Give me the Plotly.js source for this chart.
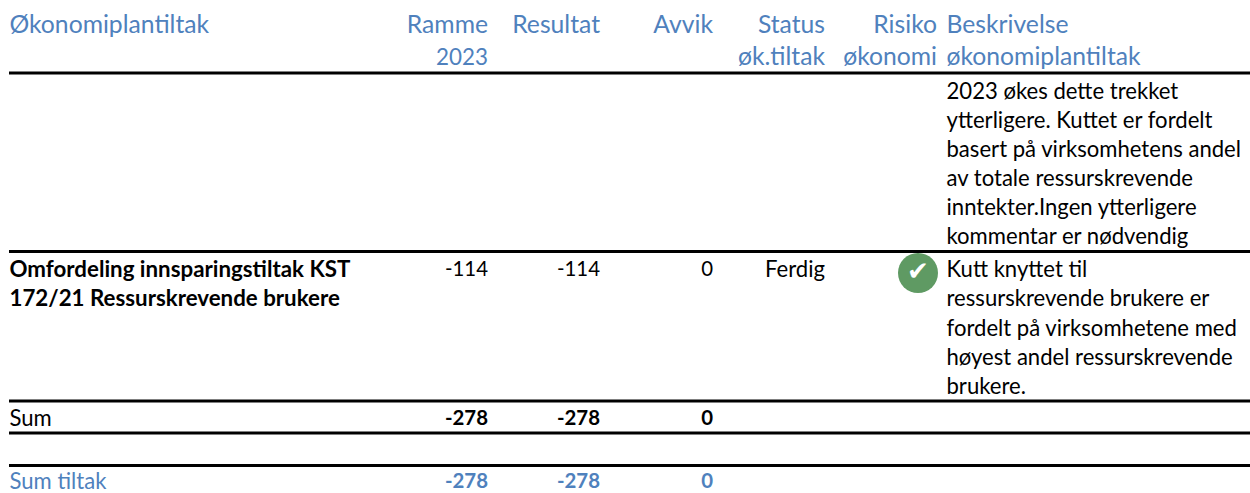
<!DOCTYPE html>
<html><head><meta charset="utf-8">
<script src="https://cdn.plot.ly/plotly-3.0.1.min.js"></script>
<style>html,body{margin:0;padding:0;background:#fff}</style></head>
<body><div id="chart" style="width:1250px;height:493px"></div>
<script>
// Table content
const headers = [["Økonomiplantiltak"],["Ramme","2023"],["Resultat"],["Avvik"],["Status","øk.tiltak"],["Risiko","økonomi"],["Beskrivelse","økonomiplantiltak"]];
const descTop = ["2023 økes dette trekket","ytterligere. Kuttet er fordelt","basert på virksomhetens andel","av totale ressurskrevende","inntekter.Ingen ytterligere","kommentar er nødvendig"];
const measureName = ["Omfordeling innsparingstiltak KST","172/21 Ressurskrevende brukere"];
const measureValues = ["-114","-114","0"];
const measureStatus = "Ferdig";
const descBottom = ["Kutt knyttet til","ressurskrevende brukere er","fordelt på virksomhetene med","høyest andel ressurskrevende","brukere."];
const sumLabel = "Sum";
const sumValues = ["-278","-278","0"];
const totalLabel = "Sum tiltak";
const totalValues = ["-278","-278","0"];

// Layout of the table, in pixels of the picture
const colX = [9.5,488,600,713,825,937,946.5];
const headerY = [27,59];
const descTopY = [93.4,122.4,151.4,180.9,209.9,238.9];
const measureY = [271.3,300.6];
const descBottomY = [271.4,300.7,330,359.3,388.5];
const sumY = 420, totalY = 483.2;
const ruleY = [73,251.5,401,433,465.5];
const iconPos = [918,273];
const BLUE = "#4f81bd", BLACK = "#000000", FONT = "Lato, 'Open Sans', sans-serif";
const HEAD = 24.7, HEADNUM = 22.4, BODY = 22.1, BOLD = 22.3, NUM = 20.4;

function txt(xs, ys, texts, color, size, pos){
  return {type:"scatter",mode:"text",x:xs,y:ys,text:texts,textposition:pos,
    textfont:{family:FONT,size:size,color:color},hoverinfo:"skip",showlegend:false,cliponaxis:false};
}
const traces = [];
headers.forEach((h,c)=>{
  const left = c===0||c===6;
  traces.push(txt(h.map(()=>colX[c]), h.map((_,i)=>headerY[i]), h, BLUE, h.map(s=>/^\d+$/.test(s)?HEADNUM:HEAD), left?"middle right":"middle left"));
});
traces.push(txt(descTop.map(()=>colX[6]), descTopY, descTop, BLACK, BODY, "middle right"));
traces.push(txt(measureName.map(()=>colX[0]), measureY, measureName.map(s=>"<b>"+s+"</b>"), BLACK, BOLD, "middle right"));
traces.push(txt(colX.slice(1,4), measureValues.map(()=>measureY[0]), measureValues, BLACK, NUM, "middle left"));
traces.push(txt([colX[4]],[measureY[0]],[measureStatus],BLACK,BODY,"middle left"));
traces.push(txt(descBottom.map(()=>colX[6]), descBottomY, descBottom, BLACK, BODY, "middle right"));
traces.push(txt([colX[0]],[sumY],[sumLabel],BLACK,BODY,"middle right"));
traces.push(txt(colX.slice(1,4), sumValues.map(()=>sumY), sumValues.map(s=>"<b>"+s+"</b>"), BLACK, NUM, "middle left"));
traces.push(txt([colX[0]],[totalY],[totalLabel],BLUE,BODY,"middle right"));
traces.push(txt(colX.slice(1,4), totalValues.map(()=>totalY), totalValues.map(s=>"<b>"+s+"</b>"), BLUE, NUM, "middle left"));
traces.push({type:"scatter",mode:"markers",x:[iconPos[0]],y:[iconPos[1]],
  marker:{size:40,color:"#5f9a63",line:{width:0}},hoverinfo:"skip",showlegend:false,cliponaxis:false});
traces.push({type:"scatter",mode:"text",x:[iconPos[0]],y:[iconPos[1]],text:["✔"],textposition:"middle center",
  textfont:{family:"DejaVu Sans",size:26,color:"#ffffff"},hoverinfo:"skip",showlegend:false,cliponaxis:false});

const axis = {visible:false,fixedrange:true,showgrid:false,zeroline:false};
const layout = {
  width:1250,height:493,margin:{l:0,r:0,t:0,b:0},paper_bgcolor:"#fff",plot_bgcolor:"#fff",showlegend:false,
  xaxis:{...axis,range:[0,1250]},yaxis:{...axis,range:[493,0]},
  shapes:ruleY.map(y=>({type:"line",xref:"x",yref:"y",x0:9,x1:1250,y0:y,y1:y,line:{color:BLACK,width:3},layer:"above"}))
};
Plotly.newPlot("chart",traces,layout,{displayModeBar:false,staticPlot:true});
</script></body></html>
